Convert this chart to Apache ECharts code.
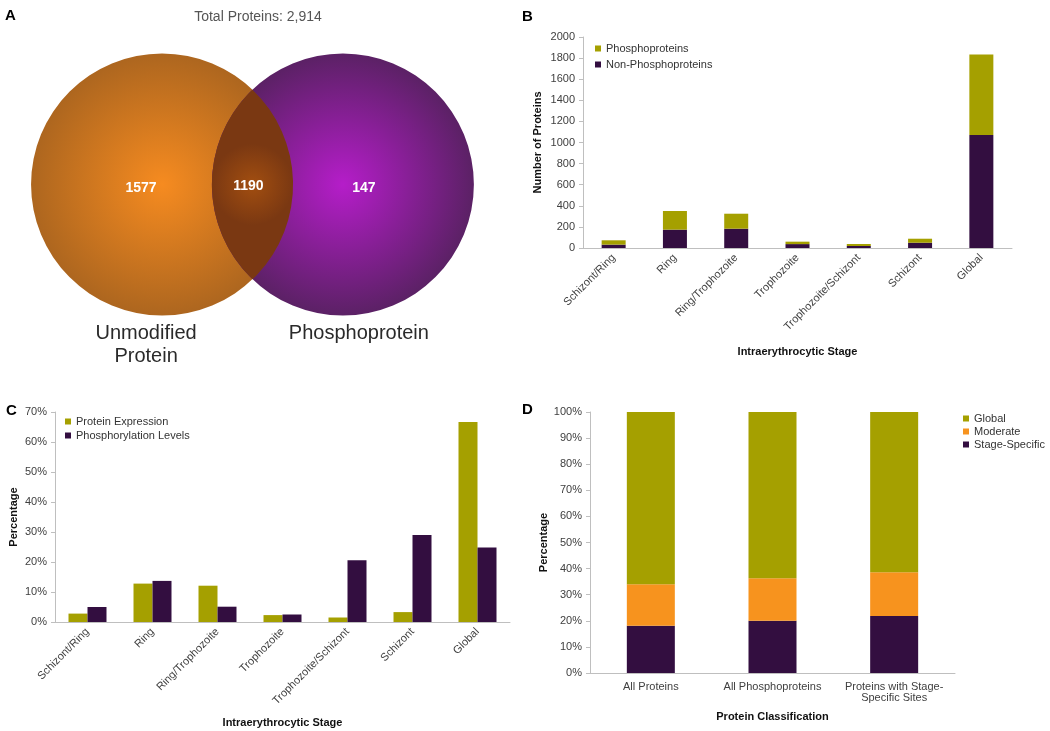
<!DOCTYPE html>
<html><head><meta charset="utf-8">
<script src="https://cdn.jsdelivr.net/npm/echarts@6/dist/echarts.min.js"></script>
<style>html,body{margin:0;padding:0;background:#fff}#c{width:1050px;height:731px}</style>
</head><body><div id="c"></div>
<script>
// ---------- DATA ----------
const vennTitle = 'Total Proteins: 2,914';
const vennSets = ['Unmodified\nProtein', 'Phosphoprotein'];
const vennOnly = [1577, 147];
const vennShared = 1190;

const stages = ['Schizont/Ring','Ring','Ring/Trophozoite','Trophozoite','Trophozoite/Schizont','Schizont','Global'];
const nonPhospho = [32, 174, 183, 37, 19, 50, 1071];
const phospho = [41, 177, 142, 23, 19, 38, 762];

const proteinExpression = [2.8, 12.8, 12.1, 2.3, 1.5, 3.3, 66.7];
const phosphorylationLevels = [5.0, 13.7, 5.1, 2.5, 20.6, 29.0, 24.8];

const classes = ['All Proteins','All Phosphoproteins','Proteins with Stage-\nSpecific Sites'];
const stageSpecific = [18.1, 20.0, 21.8];
const moderate = [15.9, 16.3, 16.8];
const globalPct = [66.0, 63.7, 61.4];

// ---------- STYLE ----------
const FONT = 'Liberation Sans, Arial, sans-serif';
const OLIVE = '#a5a000';
const PURPLE = '#330e40';
const ORANGE = '#f7931e';
const AXIS = '#bfbfbf';
const LABEL = '#404040';

const chart = echarts.init(document.getElementById('c'), null, {renderer:'canvas'});

function radial(c0, c1){
  return {type:'radial', x:0.5, y:0.5, r:0.5, colorStops:[{offset:0,color:c0},{offset:1,color:c1}]};
}
const circleFills = [radial('#f68b20','#ad661f'), radial('#b51dc9','#5b2165')];

function catAxis(grid, data, rotate, name, gap){
  return {
    type:'category', gridIndex:grid, data:data,
    axisLine:{lineStyle:{color:AXIS}}, axisTick:{length:4, lineStyle:{color:AXIS}},
    axisLabel:{interval:0, rotate:rotate, color:LABEL, fontSize:11, fontFamily:FONT, margin:8},
    name:name, nameLocation:'middle', nameGap:gap,
    nameTextStyle:{fontWeight:'bold', fontSize:11, color:'#111', fontFamily:FONT}
  };
}
function valAxis(grid, max, interval, fmt, name, gap){
  return {
    type:'value', gridIndex:grid, min:0, max:max, interval:interval,
    splitLine:{show:false},
    axisLine:{show:true, lineStyle:{color:AXIS}}, axisTick:{show:true, length:4, lineStyle:{color:AXIS}},
    axisLabel:{color:LABEL, fontSize:11, fontFamily:FONT, formatter:fmt, margin:8},
    name:name, nameLocation:'middle', nameGap:gap, nameRotate:90,
    nameTextStyle:{fontWeight:'bold', fontSize:11, color:'#111', fontFamily:FONT}
  };
}

const option = {
  animation:false,
  backgroundColor:'#fff',
  textStyle:{fontFamily:FONT},
  graphic:[
    {type:'text', x:5, y:8, style:{text:'A', font:'bold 15px '+FONT, fill:'#000'}},
    {type:'text', x:258, y:10, style:{text:vennTitle, font:'14px '+FONT, fill:'#555', textAlign:'center'}},
    {type:'text', x:522, y:9, style:{text:'B', font:'bold 15px '+FONT, fill:'#000'}},
    {type:'text', x:6, y:403, style:{text:'C', font:'bold 15px '+FONT, fill:'#000'}},
    {type:'text', x:522, y:402, style:{text:'D', font:'bold 15px '+FONT, fill:'#000'}}
  ],
  grid:[
    {left:0, top:0, width:520, height:370},
    {left:583, top:37, width:429, height:211},
    {left:55, top:412, width:455, height:210},
    {left:590, top:412, width:365, height:261}
  ],
  xAxis:[
    {type:'value', gridIndex:0, min:-1.927, max:2.042, show:false},
    catAxis(1, stages, 45, 'Intraerythrocytic Stage', 98),
    catAxis(2, stages, 45, 'Intraerythrocytic Stage', 95),
    catAxis(3, classes, 0, 'Protein Classification', 38)
  ],
  yAxis:[
    {type:'value', gridIndex:0, min:-1.416, max:1.408, show:false},
    valAxis(1, 2000, 200, function(v){ return String(v); }, 'Number of Proteins', 40),
    valAxis(2, 70, 10, '{value}%', 'Percentage', 36),
    valAxis(3, 100, 10, '{value}%', 'Percentage', 38)
  ],
  legend:[
    {data:['Phosphoproteins','Non-Phosphoproteins'], left:590, top:38, orient:'vertical', icon:'rect',
     itemWidth:6, itemHeight:6, itemGap:5, textStyle:{fontSize:11, color:'#333', fontFamily:FONT}},
    {data:['Protein Expression','Phosphorylation Levels'], left:60, top:411, orient:'vertical', icon:'rect',
     itemWidth:6, itemHeight:6, itemGap:3, textStyle:{fontSize:11, color:'#333', fontFamily:FONT}},
    {data:['Global','Moderate','Stage-Specific'], left:958, top:408, orient:'vertical', icon:'rect',
     itemWidth:6, itemHeight:6, itemGap:2, textStyle:{fontSize:11, color:'#333', fontFamily:FONT}}
  ],
  series:[
    {
      type:'custom', xAxisIndex:0, yAxisIndex:0, silent:true,
      data:[[-0.69, 0], [0.69, 0]],
      renderItem:function(params, api){
        const i = params.dataIndex;
        const c = api.coord([api.value(0), api.value(1)]);
        const r = api.size([1, 0])[0];
        const side = i === 0 ? -1 : 1;
        return {type:'group', children:[
          {type:'circle', shape:{cx:c[0], cy:c[1], r:r}, style:{fill:circleFills[i]}},
          {type:'text', x:c[0] + side*21, y:c[1] + 4,
           style:{text:String(vennOnly[i]), fill:'#fff', font:'bold 14px '+FONT, textAlign:'center', textVerticalAlign:'middle'}},
          {type:'text', x:c[0] + side*16, y:c[1] + r + 6,
           style:{text:vennSets[i], fill:'#2a2a2a', font:'20px '+FONT, textAlign:'center', textVerticalAlign:'top', lineHeight:23}}
        ]};
      }
    },
    {
      type:'custom', xAxisIndex:0, yAxisIndex:0, silent:true, z:3,
      data:[[-0.69, 0, 0.69, 0]],
      renderItem:function(params, api){
        const c1 = api.coord([api.value(0), api.value(1)]);
        const c2 = api.coord([api.value(2), api.value(3)]);
        const r = api.size([1, 0])[0];
        const d = c2[0] - c1[0];
        const mx = (c1[0] + c2[0]) / 2, cy = c1[1];
        const h = Math.sqrt(r*r - (d/2)*(d/2));
        const p = 'M '+mx+' '+(cy-h)+' A '+r+' '+r+' 0 0 1 '+mx+' '+(cy+h)+' A '+r+' '+r+' 0 0 1 '+mx+' '+(cy-h)+' Z';
        return {type:'group', children:[
          {type:'path', shape:{pathData:p}, style:{fill:radial('#a24e10','#7a3812')}},
          {type:'text', x:mx - 4, y:cy + 2,
           style:{text:String(vennShared), fill:'#fff', font:'bold 14px '+FONT, textAlign:'center', textVerticalAlign:'middle'}}
        ]};
      }
    },
    {name:'Non-Phosphoproteins', type:'bar', stack:'b', xAxisIndex:1, yAxisIndex:1, data:nonPhospho, barWidth:24, itemStyle:{color:PURPLE}},
    {name:'Phosphoproteins', type:'bar', stack:'b', xAxisIndex:1, yAxisIndex:1, data:phospho, barWidth:24, itemStyle:{color:OLIVE}},
    {name:'Protein Expression', type:'bar', xAxisIndex:2, yAxisIndex:2, data:proteinExpression, barWidth:19, barGap:'0%', itemStyle:{color:OLIVE}},
    {name:'Phosphorylation Levels', type:'bar', xAxisIndex:2, yAxisIndex:2, data:phosphorylationLevels, barWidth:19, barGap:'0%', itemStyle:{color:PURPLE}},
    {name:'Stage-Specific', type:'bar', stack:'d', xAxisIndex:3, yAxisIndex:3, data:stageSpecific, barWidth:48, itemStyle:{color:PURPLE}},
    {name:'Moderate', type:'bar', stack:'d', xAxisIndex:3, yAxisIndex:3, data:moderate, barWidth:48, itemStyle:{color:ORANGE}},
    {name:'Global', type:'bar', stack:'d', xAxisIndex:3, yAxisIndex:3, data:globalPct, barWidth:48, itemStyle:{color:OLIVE}}
  ]
};
chart.setOption(option);
</script>
</body></html>
